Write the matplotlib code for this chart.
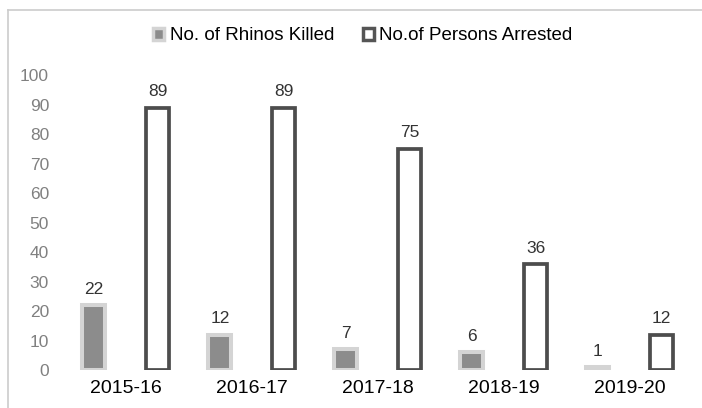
import numpy as np
import matplotlib.pyplot as plt
from matplotlib.lines import Line2D
from matplotlib.patches import Patch

years = ["2015-16", "2016-17", "2017-18", "2018-19", "2019-20"]
rhinos_killed = [22, 12, 7, 6, 1]
persons_arrested = [89, 89, 75, 36, 12]

plt.rcParams['font.family'] = ['Liberation Sans', 'DejaVu Sans']

fig = plt.figure(figsize=(7.02, 4.08), dpi=100)
ax = fig.add_axes([0.0897, 0.093, 0.897, 0.723])

x = np.arange(len(years))
w = 0.183
off = 0.254

ax.bar(x - off, rhinos_killed, w, color='#8c8c8c', edgecolor='#d4d4d4', linewidth=2.9)
ax.bar(x + off, persons_arrested, w, color='white', edgecolor='#4d4d4d', linewidth=2.7)

for i in range(len(years)):
    ax.annotate(str(rhinos_killed[i]), (x[i] - off, rhinos_killed[i]), xytext=(0, 6),
                textcoords='offset points', ha='center', va='bottom', fontsize=12.5, color='#333333')
    ax.annotate(str(persons_arrested[i]), (x[i] + off, persons_arrested[i]), xytext=(0, 6),
                textcoords='offset points', ha='center', va='bottom', fontsize=12.5, color='#333333')

ax.set_xlim(-0.5, len(years) - 0.5)
ax.set_ylim(0, 100)
ax.set_yticks(range(0, 101, 10))
ax.set_xticks(x)
ax.set_xticklabels(years, fontsize=14, color='black')
ax.tick_params(axis='y', labelsize=12.5, labelcolor='#808080', length=0, pad=10)
ax.tick_params(axis='x', length=0, pad=7)
for s in ax.spines.values():
    s.set_visible(False)

# legend
h1 = Patch(facecolor='#8c8c8c', edgecolor='#d4d4d4', linewidth=2.5)
h2 = Patch(facecolor='white', edgecolor='#555555', linewidth=2.5)
fig.legend([h1, h2], ["No. of Rhinos Killed", "No.of Persons Arrested"], loc='center',
           bbox_to_anchor=(0.517, 0.912), ncol=2, frameon=False, fontsize=13.5,
           handlelength=0.6, handleheight=0.6, handletextpad=0.3, columnspacing=1.5)

# light frame lines at top and left
fig.add_artist(Line2D([8 / 702, 1], [1 - 9.5 / 408, 1 - 9.5 / 408], color='#cccccc', linewidth=1.2))
fig.add_artist(Line2D([8 / 702, 8 / 702], [0, 1 - 9.5 / 408], color='#cccccc', linewidth=1.2))

fig.savefig('out.png', dpi=100)
